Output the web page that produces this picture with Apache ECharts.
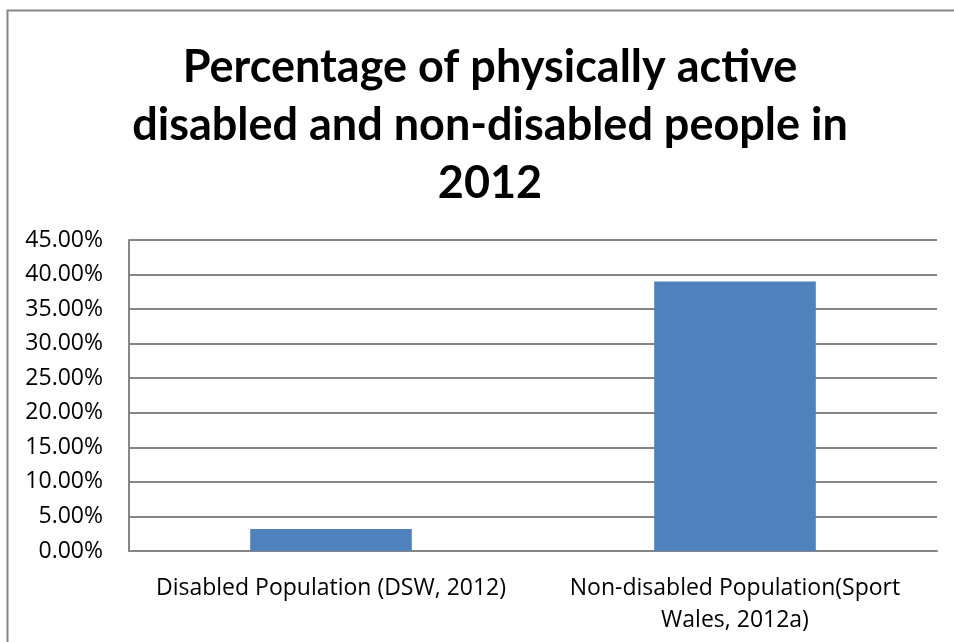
<!DOCTYPE html>
<html>
<head>
<meta charset="utf-8">
<script src="https://cdn.jsdelivr.net/npm/echarts@6/dist/echarts.min.js"></script>
<style>
  html, body { margin: 0; padding: 0; background: #fff; }
  #chart { width: 954px; height: 642px; }
</style>
</head>
<body>
<div id="chart"></div>
<script>
// chart data
var categories = ["Disabled Population (DSW, 2012)", "Non-disabled Population(Sport\nWales, 2012a)"];
var activeShare = [3.2, 39.0];   // percent
var yTicks = [0, 5, 10, 15, 20, 25, 30, 35, 40, 45];

var titleText = "Percentage of physically active\ndisabled and non-disabled people in\n2012";

var chart = echarts.init(document.getElementById("chart"));

var option = {
  backgroundColor: "#fff",
  animation: false,
  // outer chart frame (excel style), runs off right / bottom
  graphic: [{
    type: "rect",
    shape: { x: 7.5, y: 10.5, width: 1000, height: 700 },
    style: { fill: "none", stroke: "#868686", lineWidth: 2 },
    silent: true
  }],
  title: {
    text: titleText,
    left: 485,            // centre of the title block (frame is off-centre)
    textAlign: "center",
    top: 33,
    textStyle: {
      fontFamily: "Lato",
      fontWeight: "bold",
      fontSize: 45,
      lineHeight: 58,
      color: "#000"
    }
  },
  grid: {
    left: 129,
    right: 17,
    top: 240,
    bottom: 91,
    containLabel: false
  },
  xAxis: {
    type: "category",
    data: categories,
    axisLine: { show: true, lineStyle: { color: "#868686", width: 2 } },
    axisTick: { show: false },
    axisLabel: {
      color: "#000",
      fontFamily: "Open Sans",
      fontSize: 23,
      lineHeight: 32,
      margin: 21,
      interval: 0
    }
  },
  yAxis: {
    type: "value",
    min: yTicks[0],
    max: yTicks[yTicks.length - 1],
    interval: yTicks[1] - yTicks[0],
    axisLine: { show: true, lineStyle: { color: "#868686", width: 2 } },
    axisTick: { show: false },
    splitLine: { show: true, lineStyle: { color: "#868686", width: 2 } },
    axisLabel: {
      color: "#000",
      fontFamily: "Open Sans",
      fontSize: 23,
      margin: 26,
      formatter: function (v) { return v.toFixed(2) + "%"; }
    }
  },
  series: [{
    type: "bar",
    data: activeShare,
    barWidth: "40%",
    itemStyle: { color: "#4F81BD" }
  }]
};

chart.setOption(option);
</script>
</body>
</html>
